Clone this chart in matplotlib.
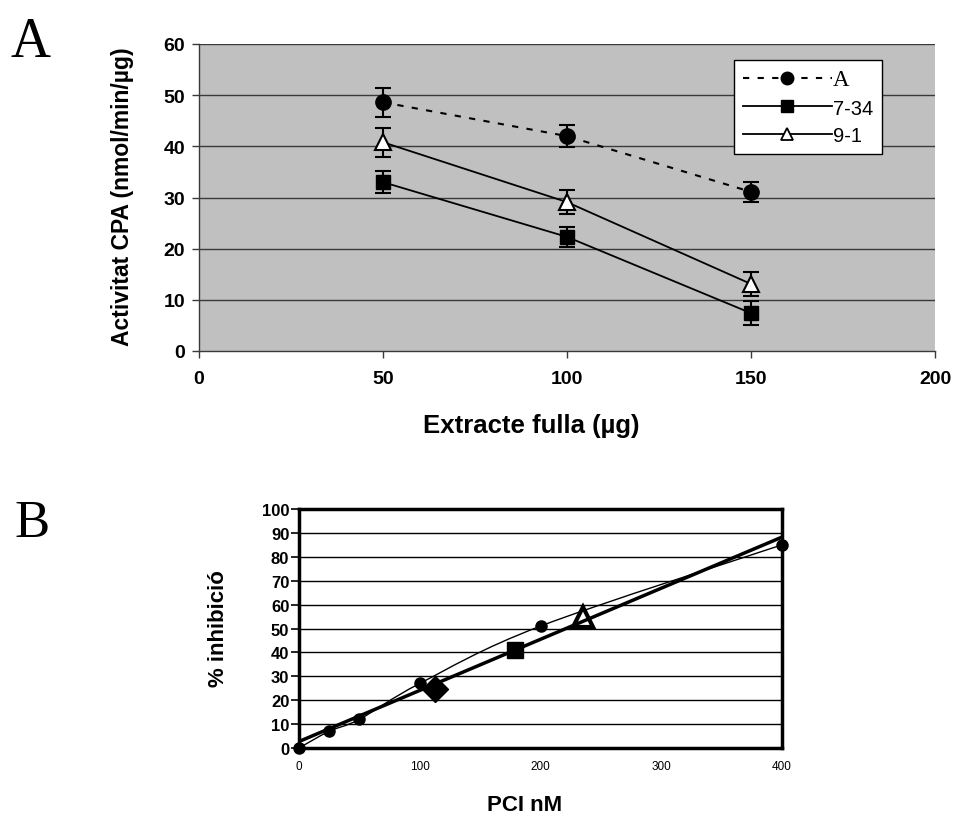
import numpy as np
import matplotlib
matplotlib.use("Agg")
import matplotlib.pyplot as plt
from matplotlib.lines import Line2D
from matplotlib.path import Path
from matplotlib.patches import PathPatch
from matplotlib import font_manager

# ---------------- data ----------------
# Panel A: CPA activity vs. leaf extract amount
extract_ug = [50, 100, 150]
act_A = [48.6, 42.0, 31.1]
err_A = [2.8, 2.1, 2.0]
act_734 = [33.0, 22.3, 7.4]
err_734 = [2.1, 2.0, 2.3]
act_91 = [40.8, 29.1, 13.1]
err_91 = [2.8, 2.4, 2.3]
series_names = ["A", "7-34", "9-1"]

# Panel B: PCI standard curve
pci_nM = [0, 25, 50, 100, 200, 400]
inhib_pct = [0, 7, 12, 27, 51, 85]
# extracts read on the curve
diamond_pt = (113, 24.5)
square_pt = (179, 41)
triangle_pt = (235, 55)

top_yticks = [0, 10, 20, 30, 40, 50, 60]
top_xticks = [0, 50, 100, 150, 200]
bot_yticks = list(range(0, 101, 10))
bot_xticks = [0, 100, 200, 300, 400]

# ---------------- fonts ----------------
installed = {f.name for f in font_manager.fontManager.ttflist}
SANS = "Liberation Sans"
NARROW = "Liberation Sans Narrow" if "Liberation Sans Narrow" in installed else SANS
SERIF = "Liberation Serif"
plt.rcParams["font.family"] = [SANS, "DejaVu Sans"]

W, H = 954, 820
fig = plt.figure(figsize=(W / 100, H / 100), dpi=100)


def box(x0, y0, x1, y1):
    """Axes rectangle from pixel coordinates (origin top-left)."""
    return [x0 / W, 1 - y1 / H, (x1 - x0) / W, (y1 - y0) / H]


# ================= Panel A =================
ax = fig.add_axes(box(199, 45, 935, 352))
ax.set_facecolor("#C0C0C0")
ax.set_xlim(0, 200)
ax.set_ylim(0, 60)
ax.set_yticks(top_yticks)
ax.set_xticks(top_xticks)
for y in top_yticks[1:]:
    ax.axhline(y, color="#3a3a3a", lw=1.0, zorder=1)
for s in ["top", "right"]:
    ax.spines[s].set_visible(False)
for s in ["left", "bottom"]:
    ax.spines[s].set_color("#3a3a3a")
    ax.spines[s].set_linewidth(1.0)
ax.tick_params(axis="y", direction="out", length=5, width=1, pad=5,
               labelsize=14, color="#3a3a3a")
ax.tick_params(axis="x", direction="out", length=5, width=1, pad=9,
               labelsize=14, color="#3a3a3a")
for lab in ax.get_xticklabels() + ax.get_yticklabels():
    lab.set_fontweight("bold")

ekw = dict(ecolor="black", elinewidth=1.5, capsize=6, capthick=1.5, zorder=3)
ax.errorbar(extract_ug, act_A, yerr=err_A, color="black", lw=1.5,
            ls=(0, (3, 4)), marker="o", ms=11, mfc="black", mec="black", **ekw)
ax.errorbar(extract_ug, act_734, yerr=err_734, color="black", lw=1.3,
            marker="s", ms=10, mfc="black", mec="black", **ekw)
ax.errorbar(extract_ug, act_91, yerr=err_91, color="black", lw=1.3,
            marker="^", ms=11, mfc="white", mec="black", mew=1.5, **ekw)

handles = [
    Line2D([], [], color="black", lw=1.5, ls=(0, (3, 4)), marker="o", ms=9,
           mfc="black", mec="black"),
    Line2D([], [], color="black", lw=1.3, marker="s", ms=8,
           mfc="black", mec="black"),
    Line2D([], [], color="black", lw=1.3, marker="^", ms=9,
           mfc="white", mec="black", mew=1.3),
]
leg = ax.legend(handles, series_names, loc="upper left",
                bbox_to_anchor=((734 - 199) / 736, 1 - (61 - 45) / 307),
                borderaxespad=0, frameon=True, fancybox=False, framealpha=1,
                edgecolor="black", fontsize=14.5, handlelength=4.4,
                handletextpad=0.05, labelspacing=0.42, borderpad=0.45)
leg.get_frame().set_linewidth(1.0)
leg.get_texts()[0].set_fontfamily(SERIF)
leg.get_texts()[0].set_fontsize(16.5)

fig.text(122 / W, 1 - 197 / H, "Activitat CPA (nmol/min/\u00b5g)", rotation=90,
         ha="center", va="center", fontsize=16.5, fontweight="bold")
fig.text(531 / W, 1 - 426 / H, "Extracte fulla (\u00b5g)", ha="center",
         va="center", fontsize=18.5, fontweight="bold", family=NARROW)
fig.text(11 / W, 1 - 57 / H, "A", ha="left", va="baseline", fontsize=40,
         family=SERIF)

# ================= Panel B =================
bx = fig.add_axes(box(299, 510, 782, 749))
bx.set_xlim(0, 400)
bx.set_ylim(0, 100)
bx.set_yticks(bot_yticks)
bx.set_xticks(bot_xticks)
for y in bot_yticks[1:-1]:
    bx.axhline(y, color="black", lw=1.0, zorder=1)
for s in bx.spines.values():
    s.set_linewidth(2.5)
    s.set_color("black")
bx.tick_params(axis="y", direction="out", length=6, width=1.2, pad=1,
               labelsize=12)
bx.tick_params(axis="x", direction="out", length=0, pad=9, labelsize=8.5)
for lab in bx.get_yticklabels():
    lab.set_fontweight("bold")

# smoothed line through the standard points (Catmull-Rom as cubic Beziers)
px = np.array(pci_nM, float)
py = np.array(inhib_pct, float)
pts = np.column_stack([px, py])
ext = np.vstack([pts[0], pts, pts[-1]])
verts = [tuple(pts[0])]
codes = [Path.MOVETO]
for i in range(1, len(ext) - 2):
    p0, p1, p2, p3 = ext[i - 1], ext[i], ext[i + 1], ext[i + 2]
    c1 = p1 + (p2 - p0) / 6.0
    c2 = p2 - (p3 - p1) / 6.0
    verts += [tuple(c1), tuple(c2), tuple(p2)]
    codes += [Path.CURVE4] * 3
bx.add_patch(PathPatch(Path(verts, codes), fill=False, edgecolor="black",
                       lw=1.0, zorder=3, clip_on=False))
bx.plot(px, py, ls="none", marker="o", ms=8, color="black", zorder=5,
        clip_on=False)

# linear trendline
slope, icpt = np.polyfit(px, py, 1)
xl = np.array([0, 400])
bx.plot(xl, slope * xl + icpt, color="black", lw=2.5, zorder=4)

bx.plot(*diamond_pt, marker="D", ms=13, color="black", zorder=6)
bx.plot(*square_pt, marker="s", ms=12, color="black", zorder=6)
bx.plot(*triangle_pt, marker="^", ms=15, mfc="none", mec="black", mew=3,
        zorder=6)

fig.text(219 / W, 1 - 629 / H, "% inhibici\u00f3", rotation=90, ha="center",
         va="center", fontsize=16, fontweight="bold")
fig.text(525 / W, 1 - 806 / H, "PCI nM", ha="center", va="center",
         fontsize=16, fontweight="bold")
fig.text(14 / W, 1 - 537 / H, "B", ha="left", va="baseline", fontsize=38,
         family=SERIF)

fig.savefig("out.png", dpi=100)
